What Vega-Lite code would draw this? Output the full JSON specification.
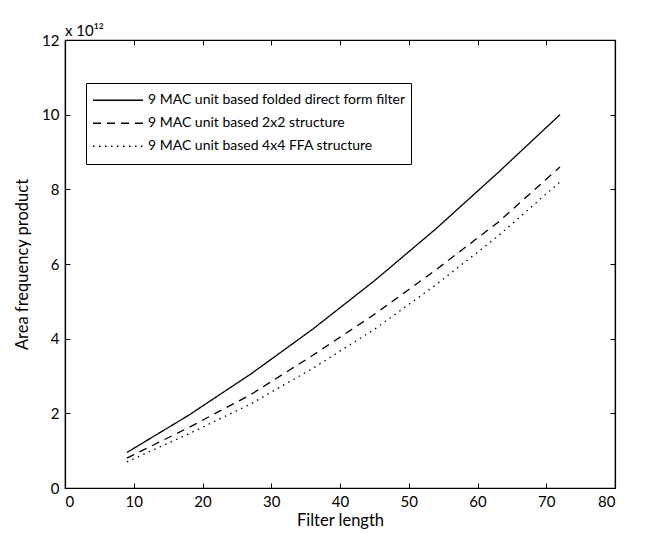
{
  "$schema": "https://vega.github.io/schema/vega-lite/v6.json",
  "width": 550,
  "height": 448,
  "autosize": "none",
  "padding": {"left": 65, "top": 40, "right": 31, "bottom": 45},
  "background": "white",
  "config": {
    "font": "Lato",
    "view": {"stroke": "black", "strokeWidth": 1.2},
    "axis": {
      "grid": false,
      "domainColor": "black",
      "domainWidth": 1.2,
      "tickColor": "black",
      "tickSize": -5,
      "labelPadding": 11,
      "labelColor": "black",
      "titleColor": "black",
      "labelFont": "Lato",
      "titleFont": "Lato",
      "labelFontSize": 15,
      "titleFontSize": 16.5,
      "titleFontWeight": "normal"
    }
  },
  "title": {
    "text": "x 10¹²",
    "anchor": "start",
    "frame": "group",
    "fontSize": 15,
    "fontWeight": "normal",
    "font": "Lato",
    "color": "black",
    "offset": -6
  },
  "data": {
    "values": [
      {"len": 9, "afp": 0.95, "series": "9 MAC unit based folded direct form filter"},
      {"len": 18, "afp": 1.95, "series": "9 MAC unit based folded direct form filter"},
      {"len": 27, "afp": 3.05, "series": "9 MAC unit based folded direct form filter"},
      {"len": 36, "afp": 4.25, "series": "9 MAC unit based folded direct form filter"},
      {"len": 45, "afp": 5.55, "series": "9 MAC unit based folded direct form filter"},
      {"len": 54, "afp": 6.95, "series": "9 MAC unit based folded direct form filter"},
      {"len": 63, "afp": 8.45, "series": "9 MAC unit based folded direct form filter"},
      {"len": 72, "afp": 10.0, "series": "9 MAC unit based folded direct form filter"},
      {"len": 9, "afp": 0.8, "series": "9 MAC unit based 2x2 structure"},
      {"len": 18, "afp": 1.62, "series": "9 MAC unit based 2x2 structure"},
      {"len": 27, "afp": 2.5, "series": "9 MAC unit based 2x2 structure"},
      {"len": 36, "afp": 3.55, "series": "9 MAC unit based 2x2 structure"},
      {"len": 45, "afp": 4.65, "series": "9 MAC unit based 2x2 structure"},
      {"len": 54, "afp": 5.85, "series": "9 MAC unit based 2x2 structure"},
      {"len": 63, "afp": 7.12, "series": "9 MAC unit based 2x2 structure"},
      {"len": 72, "afp": 8.6, "series": "9 MAC unit based 2x2 structure"},
      {"len": 9, "afp": 0.7, "series": "9 MAC unit based 4x4 FFA structure"},
      {"len": 18, "afp": 1.45, "series": "9 MAC unit based 4x4 FFA structure"},
      {"len": 27, "afp": 2.25, "series": "9 MAC unit based 4x4 FFA structure"},
      {"len": 36, "afp": 3.2, "series": "9 MAC unit based 4x4 FFA structure"},
      {"len": 45, "afp": 4.25, "series": "9 MAC unit based 4x4 FFA structure"},
      {"len": 54, "afp": 5.45, "series": "9 MAC unit based 4x4 FFA structure"},
      {"len": 63, "afp": 6.75, "series": "9 MAC unit based 4x4 FFA structure"},
      {"len": 72, "afp": 8.2, "series": "9 MAC unit based 4x4 FFA structure"}
    ]
  },
  "resolve": {"axis": {"x": "independent", "y": "independent"}},
  "layer": [
    {
      "mark": {"type": "line", "color": "black", "strokeWidth": 1.3},
      "encoding": {
        "x": {
          "field": "len", "type": "quantitative",
          "scale": {"domain": [0, 80], "nice": false},
          "axis": {"title": "Filter length", "values": [0, 10, 20, 30, 40, 50, 60, 70, 80], "titlePadding": 3}
        },
        "y": {
          "field": "afp", "type": "quantitative",
          "scale": {"domain": [0, 12], "nice": false},
          "axis": {"title": "Area frequency product", "values": [0, 2, 4, 6, 8, 10, 12], "titlePadding": 11}
        },
        "strokeDash": {
          "field": "series", "type": "nominal",
          "scale": {
            "domain": ["9 MAC unit based folded direct form filter", "9 MAC unit based 2x2 structure", "9 MAC unit based 4x4 FFA structure"],
            "range": [[1, 0], [8, 6], [1.5, 4.5]]
          },
          "legend": {
            "title": null,
            "orient": "none",
            "legendX": 21,
            "legendY": 43,
            "strokeColor": "black",
            "fillColor": "white",
            "padding": 6,
            "labelFontSize": 14,
            "labelFont": "Lato",
            "labelColor": "black",
            "symbolType": "stroke",
            "symbolStrokeColor": "black",
            "symbolStrokeWidth": 1.3,
            "symbolSize": 2500,
            "clipHeight": 22.5,
            "rowPadding": 0,
            "labelOffset": 4,
            "labelLimit": 400
          }
        }
      }
    },
    {
      "mark": {"type": "line", "opacity": 0},
      "encoding": {
        "x": {"field": "len", "type": "quantitative", "axis": {"orient": "top", "labels": false, "title": null, "values": [0, 10, 20, 30, 40, 50, 60, 70, 80]}},
        "y": {"field": "afp", "type": "quantitative", "axis": {"orient": "right", "labels": false, "title": null, "values": [0, 2, 4, 6, 8, 10, 12]}}
      }
    }
  ]
}
